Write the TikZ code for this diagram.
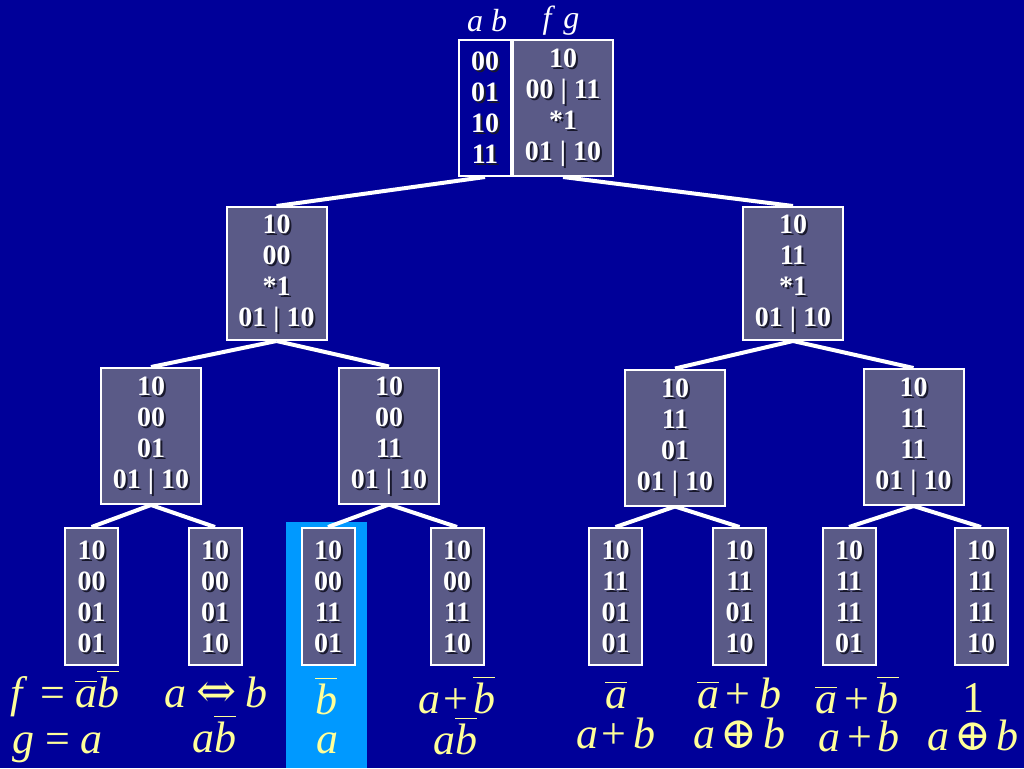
\documentclass[tikz,border=0pt]{standalone}
\usepackage{fontspec}
\setmainfont{Liberation Serif}
\newfontfamily\symf{DejaVu Serif}
\usetikzlibrary{backgrounds}
\definecolor{bgblue}{RGB}{0,0,153}
\definecolor{hiblue}{RGB}{0,153,255}
\definecolor{boxfill}{RGB}{90,90,135}
\definecolor{shadowc}{RGB}{25,25,45}
\definecolor{lbl}{RGB}{255,255,153}
\tikzset{
  boxst/.style={draw=white, line width=2pt, fill=boxfill, inner sep=0pt},
  txtst/.style={align=center, inner sep=0pt, font=\fontsize{28}{31}\selectfont\bfseries},
  edge/.style={draw=white, line width=4pt},
  lab/.style={text=lbl, inner sep=0pt, font=\fontsize{44}{46}\selectfont\itshape, anchor=base},
  toplab/.style={text=white, inner sep=0pt, font=\fontsize{32}{34}\selectfont\itshape, anchor=base}
}
\newcommand\tbx[6]{%
  \node[boxst, minimum width=#4, minimum height=#5] (#1) at (#2,#3) {};
  \node[txtst, text=shadowc] at ([shift={(2,2)}]#1.center) {#6};
  \node[txtst, text=white] at (#1.center) {#6};
}
\newcommand\ov[1]{\leavevmode\vbox{\hrule height 1.8pt \kern 4pt \hbox{#1}}}
\newcommand\myequiv{{\upshape\symf\fontsize{48}{48}\selectfont ⇔}}
\newcommand\myxor{{\upshape\symf\fontsize{44}{44}\selectfont ⊕}}
\newcommand\hs[1]{\hspace{#1pt}}
\begin{document}
\begin{tikzpicture}[x=1pt,y=-1pt]
\useasboundingbox (0,0) rectangle (1024,768);
% boxes
\node[boxst, fill=bgblue, minimum width=52pt, minimum height=136pt] (ab) at (485,108) {};
\node[txtst, text=shadowc] at ([shift={(2,2)}]ab.center) {00\\01\\10\\11};
\node[txtst, text=white] at (ab.center) {00\\01\\10\\11};
\tbx{fg}{563}{108}{100pt}{136pt}{10\\00 | 11\\*1\\01 | 10}
\tbx{la}{276.5}{273.5}{100pt}{133pt}{10\\00\\*1\\01 | 10}
\tbx{ra}{793}{273.5}{100pt}{133pt}{10\\11\\*1\\01 | 10}
\tbx{lla}{151}{436}{100pt}{136pt}{10\\00\\01\\01 | 10}
\tbx{lra}{389}{435.5}{100pt}{136pt}{10\\00\\11\\01 | 10}
\tbx{rla}{675}{437.5}{100pt}{136pt}{10\\11\\01\\01 | 10}
\tbx{rra}{913.5}{437}{100pt}{136pt}{10\\11\\11\\01 | 10}
\tbx{p1}{91.5}{596.5}{53pt}{137pt}{10\\00\\01\\01}
\tbx{p2}{215}{596.5}{53pt}{137pt}{10\\00\\01\\10}
\tbx{p3}{328}{596.5}{53pt}{137pt}{10\\00\\11\\01}
\tbx{p4}{457}{596.5}{53pt}{137pt}{10\\00\\11\\10}
\tbx{p5}{615.5}{596.5}{53pt}{137pt}{10\\11\\01\\01}
\tbx{p6}{739.5}{596.5}{53pt}{137pt}{10\\11\\01\\10}
\tbx{p7}{849}{596.5}{53pt}{137pt}{10\\11\\11\\01}
\tbx{p8}{981}{596.5}{53pt}{137pt}{10\\11\\11\\10}
% background, highlight and edges
\begin{pgfonlayer}{background}
\fill[bgblue] (0,0) rectangle (1024,768);
\fill[hiblue] (286,522) rectangle (367,768);
\draw[edge] (ab.south) -- (la.north);
\draw[edge] (fg.south) -- (ra.north);
\draw[edge] (la.south) -- (lla.north);
\draw[edge] (la.south) -- (lra.north);
\draw[edge] (ra.south) -- (rla.north);
\draw[edge] (ra.south) -- (rra.north);
\draw[edge] (lla.south) -- (p1.north);
\draw[edge] (lla.south) -- (p2.north);
\draw[edge] (lra.south) -- (p3.north);
\draw[edge] (lra.south) -- (p4.north);
\draw[edge] (rla.south) -- (p5.north);
\draw[edge] (rla.south) -- (p6.north);
\draw[edge] (rra.south) -- (p7.north);
\draw[edge] (rra.south) -- (p8.north);
\end{pgfonlayer}
% top labels
\node[toplab] (tab) at (487,32) {a b};
\node[toplab] (tfg) at (561,29) {f\hs{12}g};
% bottom labels
\node[lab, anchor=base west] (q1a) at (10,707) {f\hs{18}{\upshape =}\hs{10}\ov{a}\ov{b}};
\node[lab, anchor=base west] (q1b) at (12,753) {g\hs{11}{\upshape =}\hs{10}a};
\node[lab] (q2a) at (216,707) {a\hs{10}\myequiv\hs{8}b};
\node[lab] (q2b) at (214,752) {a\ov{b}};
\node[lab] (q3a) at (326,714) {\ov{b}};
\node[lab] (q3b) at (327,753) {a};
\node[lab] (q4a) at (457,713) {a\hs{3}{\upshape +}\hs{5}\ov{b}};
\node[lab] (q4b) at (455,754) {a\ov{b}};
\node[lab] (q5a) at (616,708) {\ov{a}};
\node[lab] (q5b) at (616,748) {a\hs{3}{\upshape +}\hs{8}b};
\node[lab] (q6a) at (739.5,708) {\ov{a}\hs{6}{\upshape +}\hs{10}b};
\node[lab] (q6b) at (739.5,748) {a\hs{5}\myxor\hs{6}b};
\node[lab] (q7a) at (857,713) {\ov{a}\hs{7}{\upshape +}\hs{8}\ov{b}};
\node[lab] (q7b) at (859,751) {a\hs{7}{\upshape +}\hs{5}b};
\node[lab] (q8a) at (973,712) {\upshape 1};
\node[lab] (q8b) at (973,750) {a\hs{5}\myxor\hs{6}b};
\end{tikzpicture}
\end{document}
